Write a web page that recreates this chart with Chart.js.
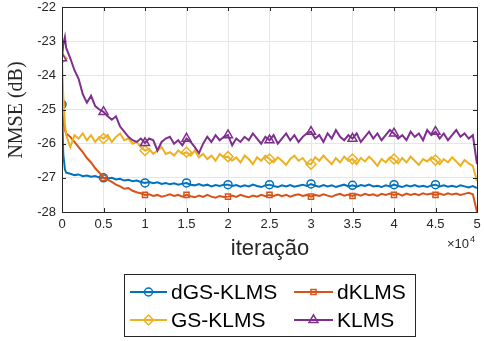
<!DOCTYPE html>
<html>
<head>
<meta charset="utf-8">
<script src="https://cdn.jsdelivr.net/npm/chart.js@4.4.0/dist/chart.umd.min.js"></script>
<style>
html,body{margin:0;padding:0;background:#fff;}
#c{display:block;}
</style>
</head>
<body>
<canvas id="c" width="484" height="341"></canvas>
<script>
const iterations = [0,150,350,500,
1000,1500,2000,2500,3000,3500,4000,4500,5000,
5500,6000,6500,7000,7500,8000,8500,9000,9500,10000,
10500,11000,11500,12000,12500,13000,13500,14000,14500,15000,
15500,16000,16500,17000,17500,18000,18500,19000,19500,20000,
20500,21000,21500,22000,22500,23000,23500,24000,24500,25000,
25500,26000,26500,27000,27500,28000,28500,29000,29500,30000,
30500,31000,31500,32000,32500,33000,33500,34000,34500,35000,
35500,36000,36500,37000,37500,38000,38500,39000,39500,40000,
40500,41000,41500,42000,42500,43000,43500,44000,44500,45000,
45500,46000,46500,47000,47500,48000,48500,49000,49500,50000];

const dGS_KLMS = [-24.85,-26.3,-26.75,-26.85,
-26.88,-26.92,-26.9,-26.95,-26.93,-26.97,-26.95,-26.99,-27.0,
-27.02,-27.0,-27.05,-27.03,-27.08,-27.06,-27.1,-27.08,-27.12,-27.15,
-27.12,-27.16,-27.13,-27.18,-27.15,-27.19,-27.16,-27.2,-27.17,-27.15,
-27.2,-27.22,-27.18,-27.23,-27.2,-27.25,-27.21,-27.24,-27.2,-27.2,
-27.24,-27.21,-27.26,-27.22,-27.25,-27.2,-27.24,-27.27,-27.22,-27.2,
-27.24,-27.27,-27.22,-27.25,-27.21,-27.26,-27.23,-27.2,-27.24,-27.18,
-27.23,-27.26,-27.21,-27.25,-27.22,-27.27,-27.23,-27.2,-27.25,-27.22,
-27.26,-27.21,-27.24,-27.2,-27.25,-27.23,-27.27,-27.22,-27.25,-27.2,
-27.24,-27.27,-27.22,-27.25,-27.21,-27.26,-27.23,-27.27,-27.22,-27.2,
-27.25,-27.22,-27.26,-27.23,-27.27,-27.22,-27.25,-27.28,-27.24,-27.3];

const dKLMS = [-24.85,-25.35,-25.6,-25.7,
-25.8,-25.95,-26.1,-26.25,-26.42,-26.55,-26.72,-26.85,-27.0,
-27.05,-27.12,-27.2,-27.25,-27.32,-27.3,-27.38,-27.42,-27.45,-27.5,
-27.48,-27.53,-27.5,-27.55,-27.52,-27.48,-27.53,-27.5,-27.55,-27.5,
-27.54,-27.57,-27.52,-27.56,-27.5,-27.55,-27.58,-27.53,-27.56,-27.55,
-27.52,-27.56,-27.5,-27.54,-27.57,-27.52,-27.55,-27.5,-27.54,-27.5,
-27.53,-27.49,-27.54,-27.5,-27.55,-27.51,-27.48,-27.53,-27.5,-27.55,
-27.5,-27.53,-27.48,-27.52,-27.55,-27.5,-27.47,-27.52,-27.49,-27.53,
-27.48,-27.52,-27.47,-27.51,-27.48,-27.53,-27.47,-27.5,-27.46,-27.5,
-27.47,-27.52,-27.46,-27.5,-27.47,-27.51,-27.45,-27.49,-27.46,-27.5,
-27.46,-27.5,-27.45,-27.49,-27.46,-27.5,-27.47,-27.44,-27.48,-28.0];

const GS_KLMS = [-23.5,-24.6,-25.4,-25.75,
-26.1,-25.75,-25.85,-25.7,-25.9,-25.75,-25.95,-25.8,-25.85,
-25.75,-25.95,-25.8,-25.7,-25.9,-25.85,-26.0,-25.95,-26.1,-26.2,
-26.15,-26.3,-26.2,-26.1,-26.3,-26.25,-26.35,-26.2,-26.3,-26.25,
-26.35,-26.2,-26.4,-26.3,-26.45,-26.35,-26.5,-26.3,-26.4,-26.38,
-26.5,-26.4,-26.55,-26.35,-26.45,-26.6,-26.4,-26.5,-26.35,-26.45,
-26.55,-26.4,-26.5,-26.62,-26.45,-26.35,-26.5,-26.42,-26.58,-26.6,
-26.4,-26.5,-26.35,-26.48,-26.6,-26.42,-26.55,-26.38,-26.5,-26.45,
-26.6,-26.42,-26.52,-26.38,-26.5,-26.65,-26.45,-26.55,-26.4,-26.45,
-26.58,-26.42,-26.55,-26.38,-26.5,-26.62,-26.45,-26.52,-26.4,-26.48,
-26.6,-26.45,-26.55,-26.4,-26.52,-26.65,-26.48,-26.58,-26.65,-27.1];

const KLMS = [-23.5,-23.1,-22.88,-23.2,
-23.5,-23.85,-24.1,-24.55,-24.8,-24.6,-24.9,-25.0,-25.07,
-25.2,-25.3,-25.2,-25.5,-25.65,-25.8,-25.9,-25.95,-25.85,-25.98,
-25.85,-25.9,-26.2,-25.95,-25.85,-25.8,-26.0,-25.9,-26.05,-25.85,
-25.95,-26.1,-26.28,-26.0,-25.8,-25.95,-25.75,-25.9,-25.8,-25.75,
-26.05,-25.85,-25.95,-25.8,-25.9,-25.7,-25.85,-26.0,-25.8,-25.9,
-25.75,-26.0,-25.85,-25.7,-25.9,-25.75,-25.95,-25.8,-25.7,-25.65,
-25.85,-25.75,-25.95,-25.7,-25.85,-25.6,-25.8,-25.9,-25.75,-25.85,
-25.7,-25.95,-25.8,-25.65,-25.85,-25.7,-25.9,-25.75,-25.6,-25.7,
-25.85,-25.75,-25.9,-25.65,-25.8,-25.7,-25.9,-25.6,-25.75,-25.65,
-25.85,-25.7,-25.9,-25.75,-25.6,-25.8,-25.7,-25.85,-25.75,-26.6];

const seriesNames = ["dGS-KLMS","dKLMS","GS-KLMS","KLMS"];
const xTickLabels = ["0","0.5","1","1.5","2","2.5","3","3.5","4","4.5","5"];
const yTickLabels = ["-28","-27","-26","-25","-24","-23","-22"];

const colors = ["#0072BD","#D95319","#EDB120","#7E2F8E"];
const styles = ["circle","rect","rectRot","triangle"];
const radii = [4,3.6,5,5.2];
const allVals = [dGS_KLMS, dKLMS, GS_KLMS, KLMS];

const datasets = allVals.map((vals,k)=>({
  label: seriesNames[k],
  data: iterations.map((x,i)=>({x:x,y:vals[i]})),
  borderColor: colors[k],
  borderWidth: 2,
  pointStyle: styles[k],
  pointBorderColor: colors[k],
  pointBackgroundColor: 'rgba(0,0,0,0)',
  pointBorderWidth: 1.5,
  pointRadius: c => (c.raw && c.raw.x % 5000 === 0 && c.raw.x < 50000) ? radii[k] : 0,
  pointHoverRadius: 0,
  tension: 0,
  fill: false,
  order: 4-k
}));

const TXT = '#262626';
const deco = {
  id:'deco',
  afterDraw(chart){
    const ctx = chart.ctx, a = chart.chartArea;
    const xs = chart.scales.x, ys = chart.scales.y;
    ctx.save();
    ctx.strokeStyle = TXT; ctx.lineWidth = 1;
    ctx.strokeRect(Math.round(a.left)+0.5, Math.round(a.top)+0.5, Math.round(a.right-a.left), Math.round(a.bottom-a.top));
    ctx.beginPath();
    for(let v=0; v<=50000; v+=5000){
      const px = Math.round(xs.getPixelForValue(v))+0.5;
      ctx.moveTo(px,a.bottom); ctx.lineTo(px,a.bottom-4);
      ctx.moveTo(px,a.top); ctx.lineTo(px,a.top+4);
    }
    for(let v=-28; v<=-22; v+=1){
      const py = Math.round(ys.getPixelForValue(v))+0.5;
      ctx.moveTo(a.left,py); ctx.lineTo(a.left+4,py);
      ctx.moveTo(a.right,py); ctx.lineTo(a.right-4,py);
    }
    ctx.stroke();
    ctx.fillStyle = TXT;
    ctx.font = '22px "Liberation Sans", Arial, sans-serif';
    ctx.textAlign='center'; ctx.textBaseline='alphabetic';
    ctx.fillText('iteração', 270, 255);
    ctx.font = '13px "Liberation Sans", Arial, sans-serif';
    ctx.textAlign='left';
    ctx.fillText('\u00d710', 447, 248);
    ctx.font = '9px "Liberation Sans", Arial, sans-serif';
    ctx.fillText('4', 470, 242);
    ctx.save();
    ctx.translate(17, 110);
    ctx.rotate(-Math.PI/2);
    ctx.font = '20px "Liberation Serif", "Times New Roman", serif';
    ctx.textAlign='center'; ctx.textBaseline='middle';
    ctx.fillStyle = TXT;
    ctx.fillText('NMSE (dB)', 0, 0);
    ctx.restore();
    ctx.fillStyle='#fff';
    ctx.fillRect(124,274,291,62);
    ctx.strokeStyle = TXT; ctx.lineWidth=1;
    ctx.strokeRect(124.5,274.5,291,62);
    const pos = [[130,167,171,292],[294,333,337,292],[130,167,171,320],[294,333,337,320]];
    for(let k=0;k<4;k++){
      const [x1,x2,tx,y] = pos[k];
      ctx.strokeStyle = colors[k]; ctx.lineWidth=2;
      ctx.beginPath(); ctx.moveTo(x1,y); ctx.lineTo(x2,y); ctx.stroke();
      ctx.lineWidth=1.5;
      ctx.fillStyle='rgba(0,0,0,0)';
      ctx.strokeStyle = colors[k];
      Chart.helpers.drawPoint(ctx,{pointStyle:styles[k],radius:radii[k],borderWidth:1.5},(x1+x2)/2,y);
      ctx.fillStyle='#000';
      ctx.font='21px "Liberation Sans", Arial, sans-serif';
      ctx.textAlign='left'; ctx.textBaseline='middle';
      ctx.fillText(seriesNames[k], tx, y+1);
    }
    ctx.restore();
  }
};

new Chart(document.getElementById('c'),{
  type:'line',
  data:{datasets},
  options:{
    responsive:false,
    animation:false,
    devicePixelRatio:1,
    layout:{padding:{top:7,right:7,left:0,bottom:0}},
    plugins:{legend:{display:false},tooltip:{enabled:false}},
    scales:{
      x:{
        type:'linear', min:0, max:50000,
        afterFit: s => { s.height = 129; s.paddingLeft = 0; s.paddingRight = 0; },
        afterBuildTicks: s => { s.ticks = xTickLabels.map((t,i)=>({value:i*5000})); },
        ticks:{
          callback:(v,i)=>xTickLabels[i],
          font:{family:'"Liberation Sans", Arial, sans-serif', size:13},
          color:TXT, padding:5, maxRotation:0, autoSkip:false
        },
        grid:{color:'#e6e6e6', drawTicks:false, lineWidth:1},
        border:{display:false}
      },
      y:{
        type:'linear', min:-28, max:-22,
        afterFit: s => { s.width = 62; s.paddingTop = 0; s.paddingBottom = 0; },
        afterBuildTicks: s => { s.ticks = yTickLabels.map((t,i)=>({value:-28+i})); },
        ticks:{
          callback:(v,i)=>yTickLabels[i],
          font:{family:'"Liberation Sans", Arial, sans-serif', size:13},
          color:TXT, padding:6, autoSkip:false
        },
        grid:{color:'#e6e6e6', drawTicks:false, lineWidth:1},
        border:{display:false}
      }
    }
  },
  plugins:[deco]
});
</script>
</body>
</html>
